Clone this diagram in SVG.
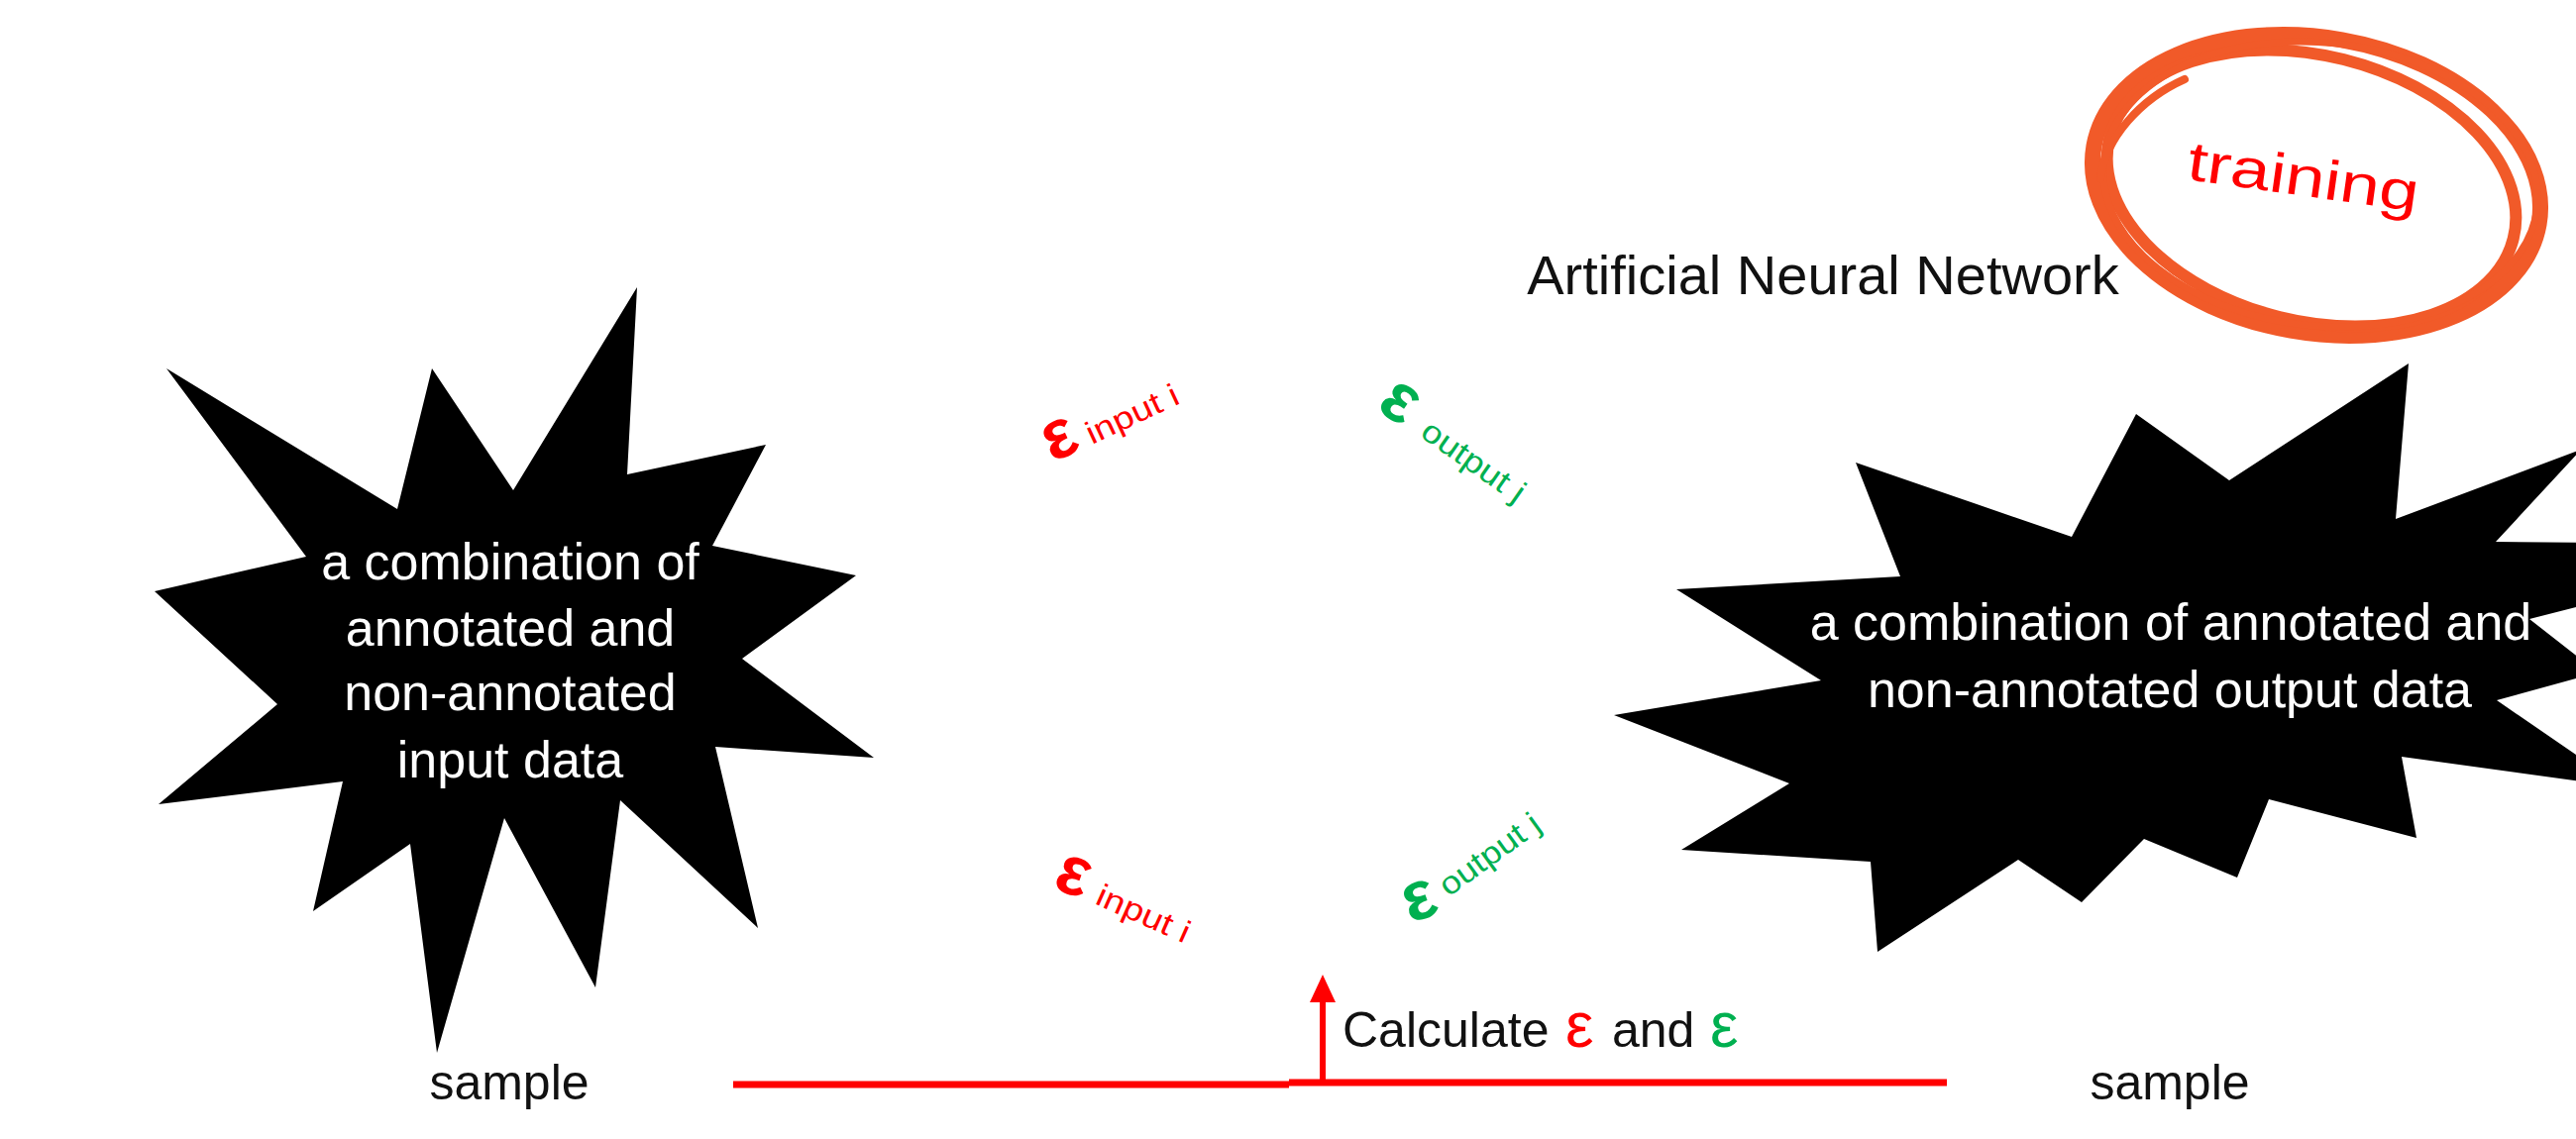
<svg xmlns="http://www.w3.org/2000/svg" width="2600" height="1150" viewBox="0 0 2600 1150">
  <defs>
    <style>
      .t { font-family: "Liberation Sans", Arial, sans-serif; }
      .star { fill: #000000; }
      .wtxt { fill: #ffffff; font-size: 52px; text-anchor: middle; }
      .blk { fill: #111111; }
      .red { fill: #ff0000; }
      .grn { fill: #00b050; }
      .eps { font-size: 70px; font-weight: bold; text-anchor: middle; }
      .sub { font-size: 32px; }
      .loop { fill: none; stroke: #f15a29; stroke-linecap: round; }
      .wire { stroke: #ff0000; stroke-width: 7; fill: none; }
    </style>
    <marker id="arrowHead" markerUnits="userSpaceOnUse" markerWidth="30" markerHeight="28" refX="0" refY="13" orient="auto" viewBox="0 0 30 26">
      <path d="M0,0 L28,13 L0,26 z" fill="#ff0000"/>
    </marker>
  </defs>
  <rect x="0" y="0" width="2600" height="1150" fill="#ffffff"/>

  <g id="input-data">
    <polygon class="star" points="168,372 401,514 436,372 518,495 643,290 633,479 773,449 719,551 864,581 749,665 882,765 722,754 765,937 626,808 601,997 509,826 441,1063 414,852 316,920 346,789 160,812 280,711 156,597 309,562"/>
    <text class="t wtxt" x="515" y="585">a combination of</text>
    <text class="t wtxt" x="515" y="652">annotated and</text>
    <text class="t wtxt" x="515" y="717">non-annotated</text>
    <text class="t wtxt" x="515" y="785">input data</text>
  </g>

  <g id="output-data">
    <polygon class="star" points="1873,467 2091,542 2156,418 2250,485 2431,367 2418,524 2605,454 2519,547 2620,548 2620,608 2553,625 2622,679 2520,707 2648,795 2424,764 2439,846 2290,807 2258,886 2164,847 2101,911 2037,868 1895,961 1888,870 1697,858 1806,791 1629,722 1838,687 1692,595 1918,582"/>
    <text class="t wtxt" x="2191" y="646">a combination of annotated and</text>
    <text class="t wtxt" x="2190" y="714">non-annotated output data</text>
  </g>

  <g id="ann-title">
    <text class="t blk" x="1840" y="297" font-size="56" text-anchor="middle">Artificial Neural Network</text>
  </g>

  <g id="training-badge">
    <ellipse class="loop" cx="2338" cy="187" rx="228" ry="149" stroke-width="16" transform="rotate(10 2338 187)"/>
    <ellipse class="loop" cx="2333" cy="190" rx="210" ry="134" stroke-width="12" transform="rotate(14 2333 190)"/>
    <ellipse class="loop" cx="2342" cy="186" rx="220" ry="143" stroke-width="7" transform="rotate(6 2342 186)"/>
    <path class="loop" d="M2205,80 C2160,100 2125,140 2120,180" stroke-width="8"/>
    <text class="t red" x="2206" y="181" font-size="56" textLength="235" lengthAdjust="spacingAndGlyphs" transform="rotate(8 2206 181)">training</text>
  </g>

  <g id="eps-input-top">
    <text class="t red eps" x="1070" y="462" transform="rotate(-25 1070 444)">ε</text>
    <text class="t red sub" x="1102" y="449" textLength="100" lengthAdjust="spacingAndGlyphs" transform="rotate(-25 1102 449)">input i</text>
  </g>

  <g id="eps-output-top">
    <text class="t grn eps" x="1412" y="425" transform="rotate(35 1412 407)">ε</text>
    <text class="t grn sub" x="1432" y="440" textLength="120" lengthAdjust="spacingAndGlyphs" transform="rotate(35 1432 440)">output j</text>
  </g>

  <g id="eps-input-bottom">
    <text class="t red eps" x="1083" y="903" transform="rotate(20 1083 885)">ε</text>
    <text class="t red sub" x="1104" y="912" textLength="100" lengthAdjust="spacingAndGlyphs" transform="rotate(24 1104 912)">input i</text>
  </g>

  <g id="eps-output-bottom">
    <text class="t grn eps" x="1433" y="928" transform="rotate(-20 1433 910)">ε</text>
    <text class="t grn sub" x="1462" y="906" textLength="118" lengthAdjust="spacingAndGlyphs" transform="rotate(-36 1462 906)">output j</text>
  </g>

  <g id="sample-left">
    <text class="t blk" x="514" y="1110" font-size="50" text-anchor="middle">sample</text>
  </g>
  <g id="sample-right">
    <text class="t blk" x="2190" y="1110" font-size="50" text-anchor="middle">sample</text>
  </g>

  <g id="calculate-label">
    <text class="t blk" x="1355" y="1057" font-size="50">Calculate<tspan class="red" x="1580" font-size="64">ε</tspan><tspan x="1627">and</tspan><tspan class="grn" x="1726" font-size="64">ε</tspan></text>
  </g>

  <g id="connectors">
    <line class="wire" x1="740" y1="1095" x2="1301" y2="1095"/>
    <line class="wire" x1="1301" y1="1093" x2="1965" y2="1093"/>
    <line x1="1335" y1="1092" x2="1335" y2="1012" stroke="#ff0000" stroke-width="6" marker-end="url(#arrowHead)"/>
  </g>
</svg>
